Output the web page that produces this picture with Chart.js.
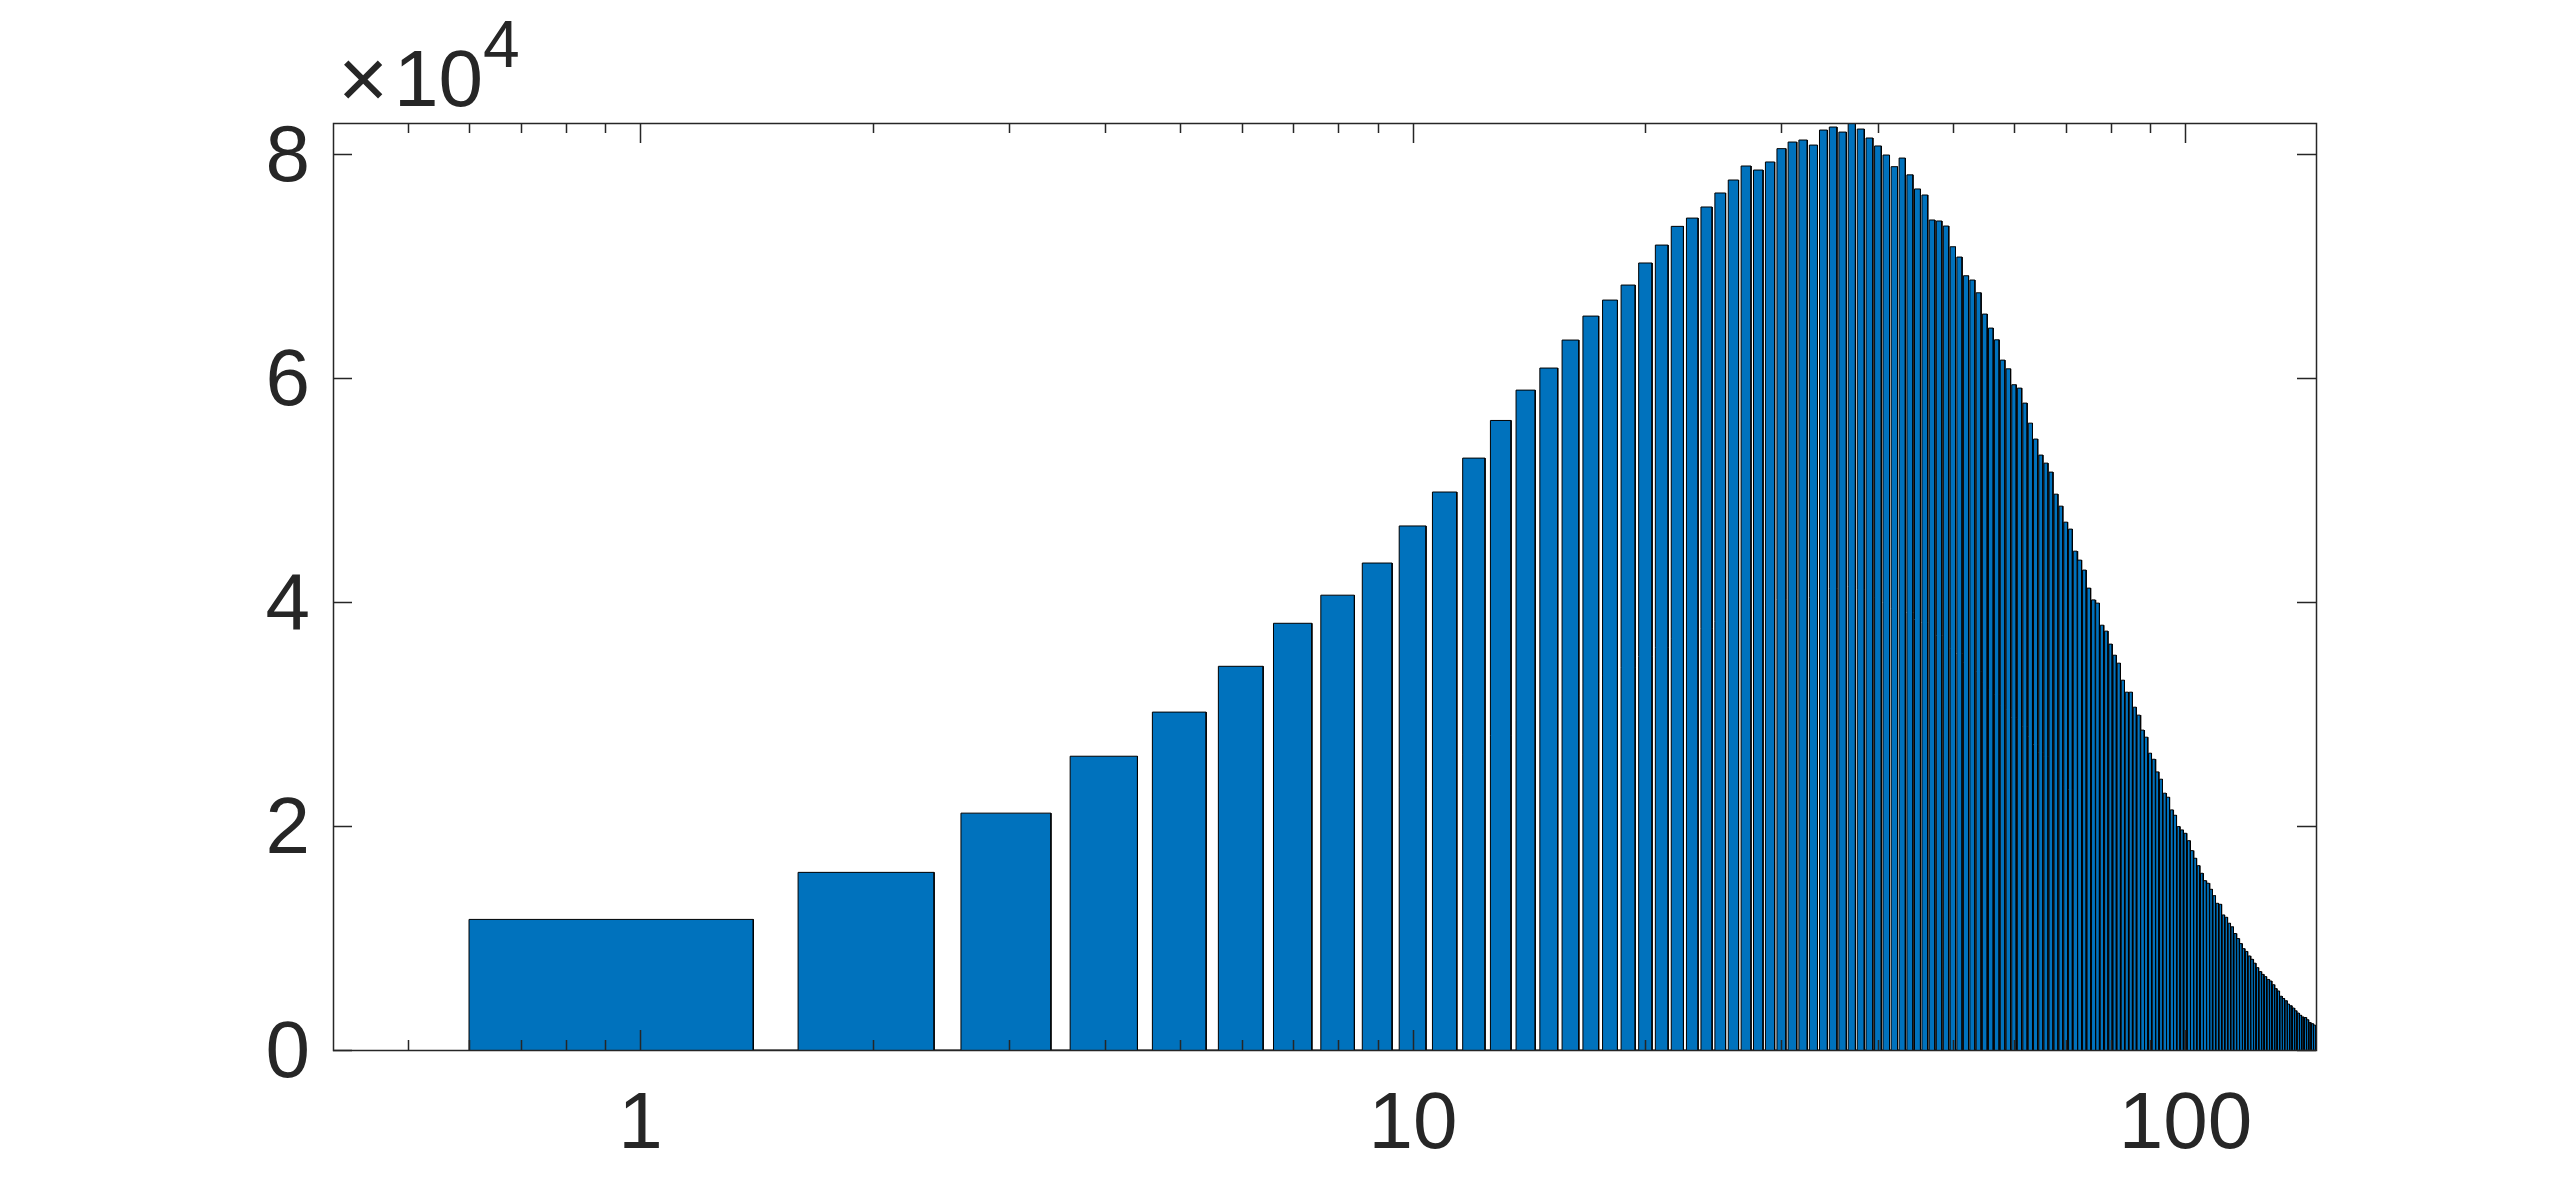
<!DOCTYPE html>
<html>
<head>
<meta charset="utf-8">
<script src="https://cdn.jsdelivr.net/npm/chart.js@4.4.1/dist/chart.umd.min.js"></script>
<style>
html,body{margin:0;padding:0;background:#ffffff;overflow:hidden;}
#wrap{width:2560px;height:1181px;position:relative;}
</style>
</head>
<body>
<div id="wrap"><canvas id="c" width="2560" height="1181"></canvas></div>
<script>
// ---- data ----
const barPositions = [
  1,2,3,4,5,6,7,8,9,10,11,12,13,14,15,16,17,18,19,20,
  21,22,23,24,25,26,27,28,29,30,31,32,33,34,35,36,37,38,39,40,
  41,42,43,44,45,46,47,48,49,50,51,52,53,54,55,56,57,58,59,60,
  61,62,63,64,65,66,67,68,69,70,71,72,73,74,75,76,77,78,79,80,
  81,82,83,84,85,86,87,88,89,90,91,92,93,94,95,96,97,98,99,100,
  101,102,103,104,105,106,107,108,109,110,111,112,113,114,115,116,117,118,119,120,
  121,122,123,124,125,126,127,128,129,130,131,132,133,134,135,136,137,138,139,140,
  141,142,143,144,145,146,147
];
const barValues = [
  11660,15860,21150,26230,30170,34260,38100,40610,43480,46790,
  49820,52850,56210,58920,60890,63390,65530,66960,68300,70270,
  71870,73540,74280,75270,76520,77680,78930,78570,79290,80480,
  81070,81250,80800,82140,82410,81960,82770,82230,81430,80720,
  79910,78870,79640,78140,76880,76340,74110,74020,73570,71720,
  70800,69130,68750,67610,65710,64460,63410,61600,60820,59400,
  59100,57760,55970,54550,53120,52400,51600,49630,48560,47130,
  46510,44540,43740,42850,41240,40190,39900,37930,37400,36240,
  35250,34540,33020,31950,31950,30610,29900,28560,27930,26500,
  25960,24830,24180,22930,22570,21440,20960,19950,19650,19350,
  18690,17800,17120,16460,15780,15120,14890,14350,13780,13100,
  13010,12060,11850,11320,11000,10400,9950,9500,9050,8800,
  8400,8100,7750,7350,7000,6750,6550,6300,6160,5830,
  5480,5270,4800,4600,4400,4100,3950,3750,3500,3300,
  3100,2950,2900,2700,2450,2350,2230
];
const xTickLabels = [1, 10, 100];
const xMinorTicks = [0.5,0.6,0.7,0.8,0.9, 2,3,4,5,6,7,8,9, 20,30,40,50,60,70,80,90];
const yTickValues = [0, 20000, 40000, 60000, 80000];
const yTickLabels = ['0', '2', '4', '6', '8'];
const exponentBase = '10';
const exponentPower = '4';
const xLimits = [0.4, 147.6];

// ---- styles ----
const FONT = "'Liberation Sans', Arial, Helvetica, sans-serif";
const AXIS_COLOR = '#262626';
const BAR_FACE = '#0072BD';
const BAR_EDGE = '#000000';
const BAR_WIDTH = 0.8;

// rectangle outlines of each bar (built from the data arrays)
const outline = [];
barPositions.forEach((x, i) => {
  const v = barValues[i];
  const l = x - BAR_WIDTH / 2, r = x + BAR_WIDTH / 2;
  outline.push({x: l, y: 0}, {x: l, y: v}, {x: r, y: v}, {x: r, y: 0});
});

const axesPlugin = {
  id: 'matlabAxes',
  afterDatasetsDraw(chart) {
    const {ctx, chartArea: a, scales: {x, y}} = chart;
    ctx.save();
    ctx.strokeStyle = AXIS_COLOR;
    ctx.lineWidth = 1.5;
    ctx.beginPath();
    // x ticks bottom + top (inside)
    x.ticks.forEach(t => {
      const px = Math.round(x.getPixelForValue(t.value)) + 0.5;
      const len = xTickLabels.includes(t.value) ? 20 : 10;
      ctx.moveTo(px, a.bottom); ctx.lineTo(px, a.bottom - len);
      ctx.moveTo(px, a.top); ctx.lineTo(px, a.top + len);
    });
    // y ticks left + right (inside)
    y.ticks.forEach(t => {
      const py = Math.round(y.getPixelForValue(t.value)) + 0.5;
      ctx.moveTo(a.left, py); ctx.lineTo(a.left + 19, py);
      ctx.moveTo(a.right, py); ctx.lineTo(a.right - 19, py);
    });
    ctx.stroke();
    ctx.strokeRect(Math.round(a.left) + 0.5, Math.round(a.top) + 0.5,
                   Math.round(a.right - a.left), Math.round(a.bottom - a.top));
    ctx.restore();
  },
  afterDraw(chart) {
    const {ctx, chartArea: a} = chart;
    ctx.save();
    ctx.fillStyle = AXIS_COLOR;
    ctx.textBaseline = 'alphabetic';
    ctx.textAlign = 'left';
    ctx.font = '86px ' + FONT;
    ctx.fillText('\u00D7', a.left + 5, 108);
    ctx.font = '80px ' + FONT;
    ctx.fillText(exponentBase, a.left + 61, 106);
    ctx.font = '66px ' + FONT;
    ctx.fillText(exponentPower, a.left + 150, 67);
    ctx.restore();
  }
};

new Chart(document.getElementById('c').getContext('2d'), {
  type: 'line',
  data: {
    datasets: [{
      data: outline,
      fill: 'origin',
      backgroundColor: BAR_FACE,
      borderColor: BAR_EDGE,
      borderWidth: 1,
      pointRadius: 0,
      tension: 0
    }]
  },
  options: {
    responsive: false,
    animation: false,
    events: [],
    layout: {padding: {top: 123, right: 244, left: 0, bottom: 0}},
    plugins: {legend: {display: false}, tooltip: {enabled: false}, title: {display: false}},
    scales: {
      x: {
        type: 'logarithmic',
        min: xLimits[0],
        max: xLimits[1],
        grid: {display: false, drawTicks: false},
        border: {display: false},
        afterBuildTicks: s => {
          s.ticks = [...xMinorTicks, ...xTickLabels].sort((p, q) => p - q)
            .map(v => ({value: v, major: xTickLabels.includes(v)}));
        },
        ticks: {
          autoSkip: false, maxRotation: 0, minRotation: 0,
          padding: 28,
          color: AXIS_COLOR,
          font: {family: FONT, size: 80},
          callback: v => xTickLabels.includes(v) ? String(v) : ''
        },
        afterFit: s => { s.height = 131; }
      },
      y: {
        min: 0,
        max: Math.max(...barValues),
        grid: {display: false, drawTicks: false},
        border: {display: false},
        afterBuildTicks: s => { s.ticks = yTickValues.map(v => ({value: v})); },
        ticks: {
          padding: 23,
          labelOffset: 5,
          color: AXIS_COLOR,
          font: {family: FONT, size: 80},
          callback: v => yTickLabels[yTickValues.indexOf(v)]
        },
        afterFit: s => { s.width = 333; }
      }
    }
  },
  plugins: [axesPlugin]
});
</script>
</body>
</html>
